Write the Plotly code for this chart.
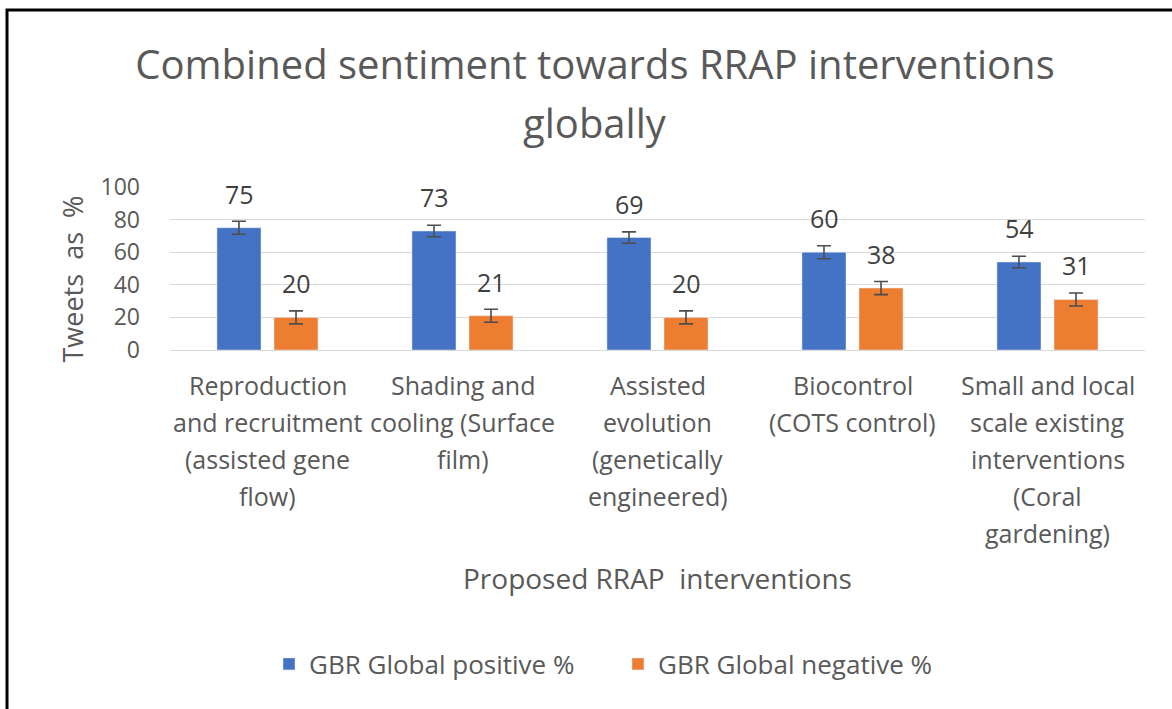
import plotly.graph_objects as go

categories = [
    "Reproduction and recruitment (assisted gene flow)",
    "Shading and cooling (Surface film)",
    "Assisted evolution (genetically engineered)",
    "Biocontrol (COTS control)",
    "Small and local scale existing interventions (Coral gardening)",
]
label_lines = [
    ["Reproduction", "and recruitment", "(assisted gene", "flow)"],
    ["Shading and", "cooling (Surface", "film)"],
    ["Assisted", "evolution", "(genetically", "engineered)"],
    ["Biocontrol", "(COTS control)"],
    ["Small and local", "scale existing", "interventions", "(Coral", "gardening)"],
]
positive = [75, 73, 69, 60, 54]
negative = [20, 21, 20, 38, 31]
pos_err = [4, 3.5, 3.5, 4, 3.5]
neg_err = [4, 4, 4, 4, 4]
series_names = ["GBR Global positive %", "GBR Global negative %"]
y_ticks = [0, 20, 40, 60, 80, 100]

FONT = "Open Sans"
GRAY = "#595959"
BLUE = "#4472C4"
ORANGE = "#ED7D31"

W, H = 1172, 709
L, R, T, B = 170, 27, 187, 359
PW, PH = W - L - R, H - T - B

fig = go.Figure()
fig.add_trace(go.Bar(
    x=categories, y=positive, name=series_names[0], marker_color=BLUE,
    error_y=dict(type="data", array=pos_err, color="#4d4d4d", thickness=1.6, width=7),
))
fig.add_trace(go.Bar(
    x=categories, y=negative, name=series_names[1], marker_color=ORANGE,
    error_y=dict(type="data", array=neg_err, color="#4d4d4d", thickness=1.6, width=7),
))

annotations = []
# data labels
for cat, p, n in zip(categories, positive, negative):
    for val, dx in ((p, -28.5), (n, 28.5)):
        annotations.append(dict(
            x=cat, y=val, xref="x", yref="y", text=str(val), showarrow=False,
            xshift=dx, yshift=34, yanchor="middle",
            font=dict(family=FONT, size=25, color="#404040"),
        ))
# category labels (multi-line)
for cat, lines in zip(categories, label_lines):
    for i, line in enumerate(lines):
        annotations.append(dict(
            x=cat, y=0, xref="x", yref="paper", text=line, showarrow=False,
            yshift=-35 - 37 * i, yanchor="middle",
            font=dict(family=FONT, size=25, color=GRAY),
        ))
# x axis title
annotations.append(dict(
    x=0.5, y=0, xref="paper", yref="paper", text="Proposed RRAP  interventions",
    showarrow=False, yshift=-228, yanchor="middle",
    font=dict(family=FONT, size=28, color=GRAY),
))
# y axis title
annotations.append(dict(
    x=0, y=0.5, xref="paper", yref="paper", text="Tweets  as  %",
    showarrow=False, xshift=-98, yshift=-11, textangle=-90, xanchor="center",
    font=dict(family=FONT, size=27, color=GRAY),
))
# title second line
annotations.append(dict(
    x=(595 - L) / PW, y=1, xref="paper", yref="paper", text="globally",
    showarrow=False, yshift=T - 122, yanchor="middle", xanchor="center",
    font=dict(family=FONT, size=40, color=GRAY),
))

fig.update_layout(
    width=W, height=H,
    margin=dict(l=L, r=R, t=T, b=B, autoexpand=False),
    paper_bgcolor="white", plot_bgcolor="white",
    title=dict(
        text="Combined sentiment towards RRAP interventions",
        x=595 / W, xanchor="center",
        y=1 - 65 / H, yanchor="middle", yref="container",
        font=dict(family=FONT, size=40, color=GRAY),
    ),
    barmode="group", bargap=0.415, bargroupgap=0.228,
    xaxis=dict(showticklabels=False, showgrid=False, zeroline=False, showline=False),
    yaxis=dict(
        range=[0, 100], tickvals=y_ticks, showgrid=True, gridcolor="#d9d9d9",
        gridwidth=1, zeroline=True, zerolinecolor="#d9d9d9", zerolinewidth=1,
        showline=False, ticks="", ticklabelstandoff=29,
        tickfont=dict(family=FONT, size=23, color=GRAY),
    ),
    legend=dict(
        orientation="h", xref="container", yref="container",
        x=269 / W, xanchor="left", y=1 - 664 / H, yanchor="middle",
        font=dict(family=FONT, size=26, color=GRAY), itemwidth=30,
        entrywidth=304, entrywidthmode="pixels",
        traceorder="normal",
    ),
    annotations=annotations,
    shapes=[dict(
        type="rect", xref="paper", yref="paper",
        x0=(7 - L) / PW, x1=(W + 20 - L) / PW,
        y0=(PH + T - H - 20) / PH, y1=(PH + T - 10) / PH,
        line=dict(color="black", width=3), fillcolor="rgba(0,0,0,0)", layer="above",
    )],
)

fig.write_html("out.html", config={"displayModeBar": False},
               post_script="document.body.style.margin='0';")
